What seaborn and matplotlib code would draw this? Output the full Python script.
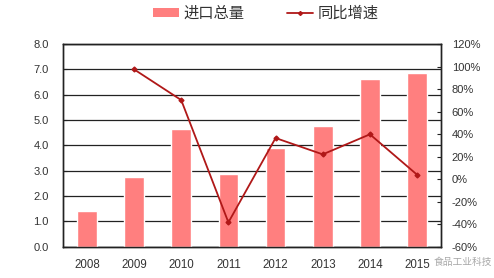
import numpy as np
import pandas as pd
import matplotlib
matplotlib.use("Agg")
import matplotlib.pyplot as plt
import seaborn as sns
from matplotlib.patches import Patch
from matplotlib.lines import Line2D
from matplotlib.ticker import FixedLocator

years = ["2008", "2009", "2010", "2011", "2012", "2013", "2014", "2015"]
import_total = [1.42, 2.77, 4.65, 2.87, 3.88, 4.78, 6.60, 6.85]
yoy_growth = [np.nan, 97.5, 70.2, -38.4, 36.5, 22.0, 39.8, 3.9]
left_ticks = [0.0, 1.0, 2.0, 3.0, 4.0, 5.0, 6.0, 7.0, 8.0]
right_ticks = [-60, -40, -20, 0, 20, 40, 60, 80, 100, 120]
bar_label = "进口总量"
line_label = "同比增速"
watermark = "食品工业科技"

sns.set_theme(style="white")
plt.rcParams['font.family'] = ['Liberation Sans', 'Noto Sans CJK SC', 'DejaVu Sans']

df = pd.DataFrame({"year": years, "total": import_total, "growth": yoy_growth})

fig = plt.figure(figsize=(4.94, 2.78), dpi=100)
ax = fig.add_axes([0.1281, 0.1126, 0.7640, 0.7291])

bar_color = "#FF7F7F"
line_color = "#B01818"

sns.barplot(data=df, x="year", y="total", order=years, color=bar_color,
            saturation=1, width=0.415, ax=ax, zorder=3)
ax.set_ylim(0, 8)
ax.set_yticks(left_ticks)
ax.set_yticklabels([f"{v:.1f}" for v in left_ticks])
ax.yaxis.grid(True, color="#222222", linewidth=0.9, zorder=0)
ax.set_axisbelow(True)
ax.set_xlabel("")
ax.set_ylabel("")
ax.set_xlim(-0.5, len(years) - 0.5)

ax2 = ax.twinx()
sns.pointplot(data=df.dropna(), x="year", y="growth", order=years, color=line_color,
              markers="D", markersize=2.5, linewidth=1.3, ax=ax2, zorder=4)
ax2.set_ylim(-60, 120)
ax2.set_yticks(right_ticks)
ax2.set_yticklabels([f"{v}%" for v in right_ticks])
ax2.set_ylabel("")
ax2.set_xlim(-0.5, len(years) - 0.5)

for a in (ax, ax2):
    for s in a.spines.values():
        s.set_color("#222222")
        s.set_linewidth(1.0)

ax.tick_params(axis="y", direction="in", length=3, width=0.8, colors="#222222",
               labelcolor="#333333", labelsize=8, pad=10.5)
ax.tick_params(axis="x", which="major", length=0, labelcolor="#333333", labelsize=8.3, pad=9)
ax.xaxis.set_minor_locator(FixedLocator(np.arange(0.5, len(years) - 1, 1.0)))
ax.tick_params(axis="x", which="minor", direction="in", length=3, width=0.8, color="#222222")
ax2.tick_params(axis="y", direction="in", length=3, width=0.8, colors="#222222",
                labelcolor="#333333", labelsize=8, pad=8)

handles = [Patch(facecolor=bar_color, edgecolor="none"),
           Line2D([0], [0], color=line_color, marker="D", markersize=2, linewidth=1.3)]
fig.legend(handles, [bar_label, line_label], loc="center", bbox_to_anchor=(0.538, 0.95),
           ncol=2, frameon=False, fontsize=11, handlelength=1.7, handleheight=0.55,
           columnspacing=2.75, handletextpad=0.33, labelcolor="#333333")

fig.text(0.877, 0.057, watermark, fontsize=7, color="#999999", alpha=0.85,
         family=['Noto Sans CJK SC', 'DejaVu Sans'], va="center")

fig.savefig("out.png", dpi=100)
